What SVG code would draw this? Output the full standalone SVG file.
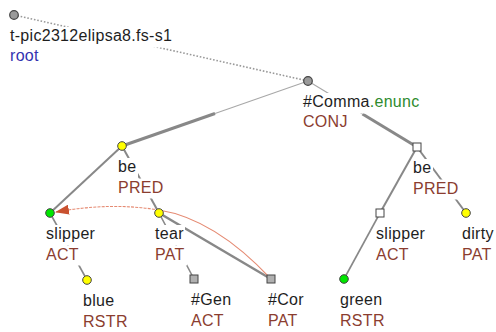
<svg xmlns="http://www.w3.org/2000/svg" width="496" height="332" viewBox="0 0 496 332">
<defs>
<style>
text{font-family:"Liberation Sans",Arial,sans-serif;font-size:16px;letter-spacing:0.3px}
.nm{fill:#1e1e1e}
.fn{fill:#8b3d2f}
.bg{fill:#fff}
.e{stroke:#888;fill:none;stroke-linecap:butt}
.thin{stroke:#a8a8a8;stroke-width:1.1;fill:none}
.dot{stroke:#999;stroke-width:1.6;stroke-dasharray:1.6 1.8;fill:none}
.gray{fill:#9a9a9a;stroke:#444;stroke-width:1.2}
.yel{fill:#ffff00;stroke:#444;stroke-width:1}
.grn{fill:#00e600;stroke:#444;stroke-width:1}
.sqg{fill:#b0b0b0;stroke:#444;stroke-width:1}
.sqw{fill:#fff;stroke:#444;stroke-width:1}
.cor{stroke:#e58a72;stroke-width:1.1;fill:none}
</style>
<marker id="arr" viewBox="0 0 14 10" refX="13" refY="5" markerWidth="14" markerHeight="10" markerUnits="userSpaceOnUse" orient="auto">
<path d="M0,0 L14,5 L0,10 Z" fill="#c9512f"/>
</marker>
</defs>
<rect width="496" height="332" fill="#fff"/>
<g id="connectors">
<line class="dot" x1="14" y1="15" x2="308" y2="81"/>
<line class="thin" x1="308" y1="81" x2="215" y2="113.5"/>
<line class="e" stroke-width="3" x1="215" y1="113.5" x2="122" y2="146"/>
<line class="thin" x1="308" y1="81" x2="362.5" y2="114"/>
<line class="e" stroke-width="3" x1="362.5" y1="114" x2="417" y2="147"/>
<line class="e" stroke-width="2" x1="122" y1="146" x2="50" y2="213"/>
<line class="e" stroke-width="2" x1="122" y1="146" x2="159" y2="213"/>
<line class="e" stroke-width="2.5" x1="159" y1="213" x2="271" y2="279"/>
<line class="e" stroke-width="1.6" x1="50" y1="213" x2="87" y2="280"/>
<line class="e" stroke-width="1.6" x1="159" y1="213" x2="194" y2="279"/>
<line class="e" stroke-width="2" x1="417" y1="147" x2="380" y2="213"/>
<line class="e" stroke-width="2" x1="417" y1="147" x2="466" y2="213"/>
<line class="e" stroke-width="1.6" x1="380" y1="213" x2="344" y2="279"/>
<path class="cor" d="M271,279 Q215,219 159,210"/>
<path class="cor" stroke-dasharray="3 1.2" d="M159,210 Q110,202 56,212" marker-end="url(#arr)"/>
</g>
<g id="n-root">
<rect class="bg" x="9" y="27" width="165" height="20.5"/>
<rect class="bg" x="9" y="47.5" width="31" height="20"/>
<text class="nm" x="10" y="41">t-pic2312elipsa8.fs-s1</text>
<text x="10" y="61" fill="#3333b0">root</text>
<circle class="gray" cx="14" cy="15" r="4.3"/>
</g>
<g id="n-comma">
<rect class="bg" x="302" y="93" width="121" height="20.5"/>
<rect class="bg" x="302" y="113.5" width="47" height="20"/>
<text class="nm" x="303" y="107">#Comma<tspan fill="#2e8b2e">.enunc</tspan></text>
<text class="fn" x="303" y="127">CONJ</text>
<circle class="gray" cx="308" cy="81" r="4.3"/>
</g>
<g id="n-be1">
<rect class="bg" x="117" y="158" width="21" height="20.5"/>
<rect class="bg" x="117" y="178.5" width="47" height="20"/>
<text class="nm" x="118" y="172">be</text>
<text class="fn" x="118" y="193">PRED</text>
<circle class="yel" cx="122" cy="146" r="4.3"/>
</g>
<g id="n-slipper1">
<rect class="bg" x="45" y="225" width="51" height="20.5"/>
<rect class="bg" x="45" y="245.5" width="35" height="20"/>
<text class="nm" x="46" y="239">slipper</text>
<text class="fn" x="46" y="260">ACT</text>
<circle class="grn" cx="50" cy="213" r="4.3"/>
</g>
<g id="n-tear">
<rect class="bg" x="154" y="225" width="31" height="20.5"/>
<rect class="bg" x="154" y="245.5" width="33" height="20"/>
<text class="nm" x="155" y="239">tear</text>
<text class="fn" x="155" y="260">PAT</text>
<circle class="yel" cx="159" cy="213" r="4.3"/>
</g>
<g id="n-blue">
<rect class="bg" x="82" y="292" width="33" height="20.5"/>
<rect class="bg" x="82" y="312.5" width="46" height="20"/>
<text class="nm" x="83" y="306">blue</text>
<text class="fn" x="83" y="327">RSTR</text>
<circle class="yel" cx="87" cy="280" r="4.3"/>
</g>
<g id="n-gen">
<rect class="bg" x="190" y="291" width="42" height="20.5"/>
<rect class="bg" x="190" y="311.5" width="34" height="20"/>
<text class="nm" x="191" y="305">#Gen</text>
<text class="fn" x="191" y="326">ACT</text>
<rect class="sqg" x="190" y="275" width="8" height="8"/>
</g>
<g id="n-cor">
<rect class="bg" x="267" y="291" width="37" height="20.5"/>
<rect class="bg" x="267" y="311.5" width="33" height="20"/>
<text class="nm" x="268" y="305">#Cor</text>
<text class="fn" x="268" y="326">PAT</text>
<rect class="sqg" x="267" y="275" width="8" height="8"/>
</g>
<g id="n-green">
<rect class="bg" x="339" y="291" width="44" height="20.5"/>
<rect class="bg" x="339" y="311.5" width="46" height="20"/>
<text class="nm" x="340" y="305">green</text>
<text class="fn" x="340" y="326">RSTR</text>
<circle class="grn" cx="344" cy="279" r="4.3"/>
</g>
<g id="n-be2">
<rect class="bg" x="412" y="159" width="21" height="20.5"/>
<rect class="bg" x="412" y="179.5" width="47" height="20"/>
<text class="nm" x="413" y="173">be</text>
<text class="fn" x="413" y="194">PRED</text>
<rect class="sqw" x="413" y="143" width="8" height="8"/>
</g>
<g id="n-slipper2">
<rect class="bg" x="375" y="225" width="51" height="20.5"/>
<rect class="bg" x="375" y="245.5" width="35" height="20"/>
<text class="nm" x="376" y="239">slipper</text>
<text class="fn" x="376" y="260">ACT</text>
<rect class="sqw" x="376" y="209" width="8" height="8"/>
</g>
<g id="n-dirty">
<rect class="bg" x="461" y="225" width="33" height="20.5"/>
<rect class="bg" x="461" y="245.5" width="33" height="20"/>
<text class="nm" x="462" y="239">dirty</text>
<text class="fn" x="462" y="260">PAT</text>
<circle class="yel" cx="466" cy="213" r="4.3"/>
</g>
</svg>
